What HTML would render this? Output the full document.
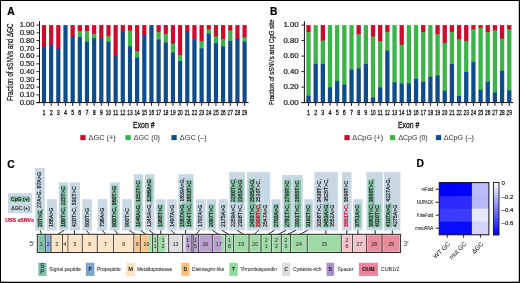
<!DOCTYPE html>
<html><head><meta charset="utf-8"><style>
html,body{margin:0;padding:0;background:#fff;}
body{width:520px;height:283px;overflow:hidden;}
svg{display:block;font-family:"Liberation Sans", sans-serif;will-change:transform;}

</style></head><body>
<svg width="520" height="283" viewBox="0 0 520 283">
<rect x="0" y="0" width="520" height="283" fill="#fff"/>
<rect x="41.90" y="25.10" width="4.20" height="21.97" fill="#cc0a2e"/>
<rect x="41.90" y="46.57" width="4.20" height="56.03" fill="#0e4c8c"/>
<line x1="44.00" y1="103.10" x2="44.00" y2="105.80" stroke="#111" stroke-width="1.0"/>
<text x="44.00" y="115.00" font-size="7.5" text-anchor="middle" fill="#111" stroke="#111" stroke-width="0.28" textLength="3.00" lengthAdjust="spacingAndGlyphs">1</text>
<rect x="49.06" y="25.10" width="4.20" height="19.95" fill="#cc0a2e"/>
<rect x="49.06" y="44.55" width="4.20" height="58.05" fill="#0e4c8c"/>
<line x1="51.16" y1="103.10" x2="51.16" y2="105.80" stroke="#111" stroke-width="1.0"/>
<text x="51.16" y="115.00" font-size="7.5" text-anchor="middle" fill="#111" stroke="#111" stroke-width="0.28" textLength="3.00" lengthAdjust="spacingAndGlyphs">2</text>
<rect x="56.23" y="25.10" width="4.20" height="24.06" fill="#cc0a2e"/>
<rect x="56.23" y="48.66" width="4.20" height="53.94" fill="#0e4c8c"/>
<line x1="58.33" y1="103.10" x2="58.33" y2="105.80" stroke="#111" stroke-width="1.0"/>
<text x="58.33" y="115.00" font-size="7.5" text-anchor="middle" fill="#111" stroke="#111" stroke-width="0.28" textLength="3.00" lengthAdjust="spacingAndGlyphs">3</text>
<rect x="63.39" y="25.10" width="4.20" height="77.50" fill="#0e4c8c"/>
<line x1="65.49" y1="103.10" x2="65.49" y2="105.80" stroke="#111" stroke-width="1.0"/>
<text x="65.49" y="115.00" font-size="7.5" text-anchor="middle" fill="#111" stroke="#111" stroke-width="0.28" textLength="3.00" lengthAdjust="spacingAndGlyphs">4</text>
<rect x="70.56" y="25.10" width="4.20" height="11.89" fill="#cc0a2e"/>
<rect x="70.56" y="36.49" width="4.20" height="66.11" fill="#0e4c8c"/>
<line x1="72.66" y1="103.10" x2="72.66" y2="105.80" stroke="#111" stroke-width="1.0"/>
<text x="72.66" y="115.00" font-size="7.5" text-anchor="middle" fill="#111" stroke="#111" stroke-width="0.28" textLength="3.00" lengthAdjust="spacingAndGlyphs">5</text>
<rect x="77.72" y="25.10" width="4.20" height="6.47" fill="#cc0a2e"/>
<rect x="77.72" y="31.07" width="4.20" height="6.55" fill="#3cb44a"/>
<rect x="77.72" y="37.11" width="4.20" height="65.49" fill="#0e4c8c"/>
<line x1="79.82" y1="103.10" x2="79.82" y2="105.80" stroke="#111" stroke-width="1.0"/>
<text x="79.82" y="115.00" font-size="7.5" text-anchor="middle" fill="#111" stroke="#111" stroke-width="0.28" textLength="3.00" lengthAdjust="spacingAndGlyphs">6</text>
<rect x="84.88" y="25.10" width="4.20" height="6.47" fill="#cc0a2e"/>
<rect x="84.88" y="31.07" width="4.20" height="11.19" fill="#3cb44a"/>
<rect x="84.88" y="41.76" width="4.20" height="60.84" fill="#0e4c8c"/>
<line x1="86.98" y1="103.10" x2="86.98" y2="105.80" stroke="#111" stroke-width="1.0"/>
<text x="86.98" y="115.00" font-size="7.5" text-anchor="middle" fill="#111" stroke="#111" stroke-width="0.28" textLength="3.00" lengthAdjust="spacingAndGlyphs">7</text>
<rect x="92.05" y="25.10" width="4.20" height="9.49" fill="#cc0a2e"/>
<rect x="92.05" y="34.09" width="4.20" height="4.61" fill="#3cb44a"/>
<rect x="92.05" y="38.20" width="4.20" height="64.40" fill="#0e4c8c"/>
<line x1="94.15" y1="103.10" x2="94.15" y2="105.80" stroke="#111" stroke-width="1.0"/>
<text x="94.15" y="115.00" font-size="7.5" text-anchor="middle" fill="#111" stroke="#111" stroke-width="0.28" textLength="3.00" lengthAdjust="spacingAndGlyphs">8</text>
<rect x="99.21" y="25.10" width="4.20" height="13.60" fill="#cc0a2e"/>
<rect x="99.21" y="38.20" width="4.20" height="64.40" fill="#0e4c8c"/>
<line x1="101.31" y1="103.10" x2="101.31" y2="105.80" stroke="#111" stroke-width="1.0"/>
<text x="101.31" y="115.00" font-size="7.5" text-anchor="middle" fill="#111" stroke="#111" stroke-width="0.28" textLength="3.00" lengthAdjust="spacingAndGlyphs">9</text>
<rect x="106.38" y="25.10" width="4.20" height="11.50" fill="#cc0a2e"/>
<rect x="106.38" y="36.10" width="4.20" height="6.16" fill="#3cb44a"/>
<rect x="106.38" y="41.76" width="4.20" height="60.84" fill="#0e4c8c"/>
<line x1="108.48" y1="103.10" x2="108.48" y2="105.80" stroke="#111" stroke-width="1.0"/>
<text x="108.48" y="115.00" font-size="7.5" text-anchor="middle" fill="#111" stroke="#111" stroke-width="0.28" textLength="5.30" lengthAdjust="spacingAndGlyphs">10</text>
<rect x="113.54" y="25.10" width="4.20" height="31.65" fill="#cc0a2e"/>
<rect x="113.54" y="56.25" width="4.20" height="46.34" fill="#0e4c8c"/>
<line x1="115.64" y1="103.10" x2="115.64" y2="105.80" stroke="#111" stroke-width="1.0"/>
<text x="115.64" y="115.00" font-size="7.5" text-anchor="middle" fill="#111" stroke="#111" stroke-width="0.28" textLength="5.30" lengthAdjust="spacingAndGlyphs">11</text>
<rect x="120.70" y="25.10" width="4.20" height="7.09" fill="#cc0a2e"/>
<rect x="120.70" y="31.69" width="4.20" height="70.91" fill="#0e4c8c"/>
<line x1="122.80" y1="103.10" x2="122.80" y2="105.80" stroke="#111" stroke-width="1.0"/>
<text x="122.80" y="115.00" font-size="7.5" text-anchor="middle" fill="#111" stroke="#111" stroke-width="0.28" textLength="5.30" lengthAdjust="spacingAndGlyphs">12</text>
<rect x="127.87" y="25.10" width="4.20" height="5.92" fill="#cc0a2e"/>
<rect x="127.87" y="30.52" width="4.20" height="16.16" fill="#3cb44a"/>
<rect x="127.87" y="46.18" width="4.20" height="56.42" fill="#0e4c8c"/>
<line x1="129.97" y1="103.10" x2="129.97" y2="105.80" stroke="#111" stroke-width="1.0"/>
<text x="129.97" y="115.00" font-size="7.5" text-anchor="middle" fill="#111" stroke="#111" stroke-width="0.28" textLength="5.30" lengthAdjust="spacingAndGlyphs">13</text>
<rect x="135.03" y="25.10" width="4.20" height="26.69" fill="#cc0a2e"/>
<rect x="135.03" y="51.29" width="4.20" height="6.86" fill="#3cb44a"/>
<rect x="135.03" y="57.65" width="4.20" height="44.95" fill="#0e4c8c"/>
<line x1="137.13" y1="103.10" x2="137.13" y2="105.80" stroke="#111" stroke-width="1.0"/>
<text x="137.13" y="115.00" font-size="7.5" text-anchor="middle" fill="#111" stroke="#111" stroke-width="0.28" textLength="5.30" lengthAdjust="spacingAndGlyphs">14</text>
<rect x="142.20" y="25.10" width="4.20" height="10.50" fill="#cc0a2e"/>
<rect x="142.20" y="35.10" width="4.20" height="67.50" fill="#0e4c8c"/>
<line x1="144.30" y1="103.10" x2="144.30" y2="105.80" stroke="#111" stroke-width="1.0"/>
<text x="144.30" y="115.00" font-size="7.5" text-anchor="middle" fill="#111" stroke="#111" stroke-width="0.28" textLength="5.30" lengthAdjust="spacingAndGlyphs">15</text>
<rect x="149.36" y="25.10" width="4.20" height="77.50" fill="#0e4c8c"/>
<line x1="151.46" y1="103.10" x2="151.46" y2="105.80" stroke="#111" stroke-width="1.0"/>
<text x="151.46" y="115.00" font-size="7.5" text-anchor="middle" fill="#111" stroke="#111" stroke-width="0.28" textLength="5.30" lengthAdjust="spacingAndGlyphs">16</text>
<rect x="156.52" y="25.10" width="4.20" height="7.63" fill="#cc0a2e"/>
<rect x="156.52" y="32.23" width="4.20" height="7.86" fill="#3cb44a"/>
<rect x="156.52" y="39.59" width="4.20" height="63.01" fill="#0e4c8c"/>
<line x1="158.62" y1="103.10" x2="158.62" y2="105.80" stroke="#111" stroke-width="1.0"/>
<text x="158.62" y="115.00" font-size="7.5" text-anchor="middle" fill="#111" stroke="#111" stroke-width="0.28" textLength="5.30" lengthAdjust="spacingAndGlyphs">17</text>
<rect x="163.69" y="25.10" width="4.20" height="9.49" fill="#cc0a2e"/>
<rect x="163.69" y="34.09" width="4.20" height="8.87" fill="#3cb44a"/>
<rect x="163.69" y="42.46" width="4.20" height="60.14" fill="#0e4c8c"/>
<line x1="165.79" y1="103.10" x2="165.79" y2="105.80" stroke="#111" stroke-width="1.0"/>
<text x="165.79" y="115.00" font-size="7.5" text-anchor="middle" fill="#111" stroke="#111" stroke-width="0.28" textLength="5.30" lengthAdjust="spacingAndGlyphs">18</text>
<rect x="170.85" y="25.10" width="4.20" height="18.94" fill="#cc0a2e"/>
<rect x="170.85" y="43.54" width="4.20" height="9.64" fill="#3cb44a"/>
<rect x="170.85" y="52.69" width="4.20" height="49.91" fill="#0e4c8c"/>
<line x1="172.95" y1="103.10" x2="172.95" y2="105.80" stroke="#111" stroke-width="1.0"/>
<text x="172.95" y="115.00" font-size="7.5" text-anchor="middle" fill="#111" stroke="#111" stroke-width="0.28" textLength="5.30" lengthAdjust="spacingAndGlyphs">19</text>
<rect x="178.02" y="25.10" width="4.20" height="30.57" fill="#cc0a2e"/>
<rect x="178.02" y="55.17" width="4.20" height="6.39" fill="#3cb44a"/>
<rect x="178.02" y="61.06" width="4.20" height="41.54" fill="#0e4c8c"/>
<line x1="180.12" y1="103.10" x2="180.12" y2="105.80" stroke="#111" stroke-width="1.0"/>
<text x="180.12" y="115.00" font-size="7.5" text-anchor="middle" fill="#111" stroke="#111" stroke-width="0.28" textLength="5.30" lengthAdjust="spacingAndGlyphs">20</text>
<rect x="185.18" y="25.10" width="4.20" height="7.32" fill="#cc0a2e"/>
<rect x="185.18" y="31.92" width="4.20" height="70.68" fill="#0e4c8c"/>
<line x1="187.28" y1="103.10" x2="187.28" y2="105.80" stroke="#111" stroke-width="1.0"/>
<text x="187.28" y="115.00" font-size="7.5" text-anchor="middle" fill="#111" stroke="#111" stroke-width="0.28" textLength="5.30" lengthAdjust="spacingAndGlyphs">21</text>
<rect x="192.34" y="25.10" width="4.20" height="14.68" fill="#cc0a2e"/>
<rect x="192.34" y="39.28" width="4.20" height="63.32" fill="#0e4c8c"/>
<line x1="194.44" y1="103.10" x2="194.44" y2="105.80" stroke="#111" stroke-width="1.0"/>
<text x="194.44" y="115.00" font-size="7.5" text-anchor="middle" fill="#111" stroke="#111" stroke-width="0.28" textLength="5.30" lengthAdjust="spacingAndGlyphs">22</text>
<rect x="199.51" y="25.10" width="4.20" height="16.39" fill="#cc0a2e"/>
<rect x="199.51" y="40.99" width="4.20" height="7.86" fill="#3cb44a"/>
<rect x="199.51" y="48.35" width="4.20" height="54.25" fill="#0e4c8c"/>
<line x1="201.61" y1="103.10" x2="201.61" y2="105.80" stroke="#111" stroke-width="1.0"/>
<text x="201.61" y="115.00" font-size="7.5" text-anchor="middle" fill="#111" stroke="#111" stroke-width="0.28" textLength="5.30" lengthAdjust="spacingAndGlyphs">23</text>
<rect x="206.67" y="25.10" width="4.20" height="4.76" fill="#cc0a2e"/>
<rect x="206.67" y="29.36" width="4.20" height="4.76" fill="#3cb44a"/>
<rect x="206.67" y="33.62" width="4.20" height="68.97" fill="#0e4c8c"/>
<line x1="208.77" y1="103.10" x2="208.77" y2="105.80" stroke="#111" stroke-width="1.0"/>
<text x="208.77" y="115.00" font-size="7.5" text-anchor="middle" fill="#111" stroke="#111" stroke-width="0.28" textLength="5.30" lengthAdjust="spacingAndGlyphs">24</text>
<rect x="213.84" y="25.10" width="4.20" height="11.81" fill="#cc0a2e"/>
<rect x="213.84" y="36.41" width="4.20" height="7.24" fill="#3cb44a"/>
<rect x="213.84" y="43.16" width="4.20" height="59.44" fill="#0e4c8c"/>
<line x1="215.94" y1="103.10" x2="215.94" y2="105.80" stroke="#111" stroke-width="1.0"/>
<text x="215.94" y="115.00" font-size="7.5" text-anchor="middle" fill="#111" stroke="#111" stroke-width="0.28" textLength="5.30" lengthAdjust="spacingAndGlyphs">25</text>
<rect x="221.00" y="25.10" width="4.20" height="14.68" fill="#cc0a2e"/>
<rect x="221.00" y="39.28" width="4.20" height="7.47" fill="#3cb44a"/>
<rect x="221.00" y="46.26" width="4.20" height="56.34" fill="#0e4c8c"/>
<line x1="223.10" y1="103.10" x2="223.10" y2="105.80" stroke="#111" stroke-width="1.0"/>
<text x="223.10" y="115.00" font-size="7.5" text-anchor="middle" fill="#111" stroke="#111" stroke-width="0.28" textLength="5.30" lengthAdjust="spacingAndGlyphs">26</text>
<rect x="228.16" y="25.10" width="4.20" height="5.85" fill="#cc0a2e"/>
<rect x="228.16" y="30.45" width="4.20" height="11.04" fill="#3cb44a"/>
<rect x="228.16" y="40.99" width="4.20" height="61.61" fill="#0e4c8c"/>
<line x1="230.26" y1="103.10" x2="230.26" y2="105.80" stroke="#111" stroke-width="1.0"/>
<text x="230.26" y="115.00" font-size="7.5" text-anchor="middle" fill="#111" stroke="#111" stroke-width="0.28" textLength="5.30" lengthAdjust="spacingAndGlyphs">27</text>
<rect x="235.33" y="25.10" width="4.20" height="14.29" fill="#cc0a2e"/>
<rect x="235.33" y="38.89" width="4.20" height="63.70" fill="#0e4c8c"/>
<line x1="237.43" y1="103.10" x2="237.43" y2="105.80" stroke="#111" stroke-width="1.0"/>
<text x="237.43" y="115.00" font-size="7.5" text-anchor="middle" fill="#111" stroke="#111" stroke-width="0.28" textLength="5.30" lengthAdjust="spacingAndGlyphs">28</text>
<rect x="242.49" y="25.10" width="4.20" height="12.59" fill="#cc0a2e"/>
<rect x="242.49" y="37.19" width="4.20" height="4.99" fill="#3cb44a"/>
<rect x="242.49" y="41.68" width="4.20" height="60.91" fill="#0e4c8c"/>
<line x1="244.59" y1="103.10" x2="244.59" y2="105.80" stroke="#111" stroke-width="1.0"/>
<text x="244.59" y="115.00" font-size="7.5" text-anchor="middle" fill="#111" stroke="#111" stroke-width="0.28" textLength="5.30" lengthAdjust="spacingAndGlyphs">29</text>
<line x1="39.50" y1="21.20" x2="39.50" y2="103.10" stroke="#111" stroke-width="1"/>
<line x1="36.50" y1="102.60" x2="248.59" y2="102.60" stroke="#111" stroke-width="1"/>
<line x1="36.50" y1="102.60" x2="39.50" y2="102.60" stroke="#111" stroke-width="0.9"/>
<text x="34.50" y="104.80" font-size="7.4" text-anchor="end" fill="#111" stroke="#111" stroke-width="0.18" textLength="14.80" lengthAdjust="spacingAndGlyphs">0.00</text>
<line x1="36.50" y1="94.85" x2="39.50" y2="94.85" stroke="#111" stroke-width="0.9"/>
<text x="34.50" y="97.05" font-size="7.4" text-anchor="end" fill="#111" stroke="#111" stroke-width="0.18" textLength="14.80" lengthAdjust="spacingAndGlyphs">0.10</text>
<line x1="36.50" y1="87.10" x2="39.50" y2="87.10" stroke="#111" stroke-width="0.9"/>
<text x="34.50" y="89.30" font-size="7.4" text-anchor="end" fill="#111" stroke="#111" stroke-width="0.18" textLength="14.80" lengthAdjust="spacingAndGlyphs">0.20</text>
<line x1="36.50" y1="79.35" x2="39.50" y2="79.35" stroke="#111" stroke-width="0.9"/>
<text x="34.50" y="81.55" font-size="7.4" text-anchor="end" fill="#111" stroke="#111" stroke-width="0.18" textLength="14.80" lengthAdjust="spacingAndGlyphs">0.30</text>
<line x1="36.50" y1="71.60" x2="39.50" y2="71.60" stroke="#111" stroke-width="0.9"/>
<text x="34.50" y="73.80" font-size="7.4" text-anchor="end" fill="#111" stroke="#111" stroke-width="0.18" textLength="14.80" lengthAdjust="spacingAndGlyphs">0.40</text>
<line x1="36.50" y1="63.85" x2="39.50" y2="63.85" stroke="#111" stroke-width="0.9"/>
<text x="34.50" y="66.05" font-size="7.4" text-anchor="end" fill="#111" stroke="#111" stroke-width="0.18" textLength="14.80" lengthAdjust="spacingAndGlyphs">0.50</text>
<line x1="36.50" y1="56.10" x2="39.50" y2="56.10" stroke="#111" stroke-width="0.9"/>
<text x="34.50" y="58.30" font-size="7.4" text-anchor="end" fill="#111" stroke="#111" stroke-width="0.18" textLength="14.80" lengthAdjust="spacingAndGlyphs">0.60</text>
<line x1="36.50" y1="48.35" x2="39.50" y2="48.35" stroke="#111" stroke-width="0.9"/>
<text x="34.50" y="50.55" font-size="7.4" text-anchor="end" fill="#111" stroke="#111" stroke-width="0.18" textLength="14.80" lengthAdjust="spacingAndGlyphs">0.70</text>
<line x1="36.50" y1="40.60" x2="39.50" y2="40.60" stroke="#111" stroke-width="0.9"/>
<text x="34.50" y="42.80" font-size="7.4" text-anchor="end" fill="#111" stroke="#111" stroke-width="0.18" textLength="14.80" lengthAdjust="spacingAndGlyphs">0.80</text>
<line x1="36.50" y1="32.85" x2="39.50" y2="32.85" stroke="#111" stroke-width="0.9"/>
<text x="34.50" y="35.05" font-size="7.4" text-anchor="end" fill="#111" stroke="#111" stroke-width="0.18" textLength="14.80" lengthAdjust="spacingAndGlyphs">0.90</text>
<line x1="36.50" y1="25.10" x2="39.50" y2="25.10" stroke="#111" stroke-width="0.9"/>
<text x="34.50" y="27.30" font-size="7.4" text-anchor="end" fill="#111" stroke="#111" stroke-width="0.18" textLength="14.80" lengthAdjust="spacingAndGlyphs">1.00</text>
<text x="13.00" y="62.20" font-size="8.2" text-anchor="middle" fill="#111" stroke="#111" stroke-width="0.22" textLength="77.40" lengthAdjust="spacingAndGlyphs" transform="rotate(-90 13.00 62.20)">Fraction of sSNVs and ΔGC</text>
<text x="143.80" y="127.80" font-size="9.0" text-anchor="middle" fill="#111" stroke="#111" stroke-width="0.3" textLength="21.40" lengthAdjust="spacingAndGlyphs">Exon #</text>
<rect x="80.30" y="135.10" width="5.30" height="5.00" fill="#cc0a2e"/>
<text x="88.60" y="139.90" font-size="6.8" text-anchor="start" fill="#3a3a3a" stroke="#3a3a3a" stroke-width="0.05" textLength="27.00" lengthAdjust="spacingAndGlyphs">ΔGC (+)</text>
<rect x="125.40" y="135.10" width="5.30" height="5.00" fill="#3cb44a"/>
<text x="133.80" y="139.90" font-size="6.8" text-anchor="start" fill="#3a3a3a" stroke="#3a3a3a" stroke-width="0.05" textLength="26.20" lengthAdjust="spacingAndGlyphs">ΔGC (0)</text>
<rect x="171.40" y="135.10" width="5.30" height="5.00" fill="#0e4c8c"/>
<text x="179.80" y="139.90" font-size="6.8" text-anchor="start" fill="#3a3a3a" stroke="#3a3a3a" stroke-width="0.05" textLength="27.00" lengthAdjust="spacingAndGlyphs">ΔGC (–)</text>
<rect x="306.35" y="25.10" width="4.30" height="7.47" fill="#cc0a2e"/>
<rect x="306.35" y="32.07" width="4.30" height="64.21" fill="#3cb44a"/>
<rect x="306.35" y="95.78" width="4.30" height="6.82" fill="#0e4c8c"/>
<line x1="308.50" y1="103.10" x2="308.50" y2="105.80" stroke="#111" stroke-width="1.0"/>
<text x="308.50" y="115.00" font-size="7.5" text-anchor="middle" fill="#111" stroke="#111" stroke-width="0.28" textLength="3.00" lengthAdjust="spacingAndGlyphs">1</text>
<rect x="313.52" y="25.10" width="4.30" height="39.25" fill="#3cb44a"/>
<rect x="313.52" y="63.85" width="4.30" height="38.75" fill="#0e4c8c"/>
<line x1="315.67" y1="103.10" x2="315.67" y2="105.80" stroke="#111" stroke-width="1.0"/>
<text x="315.67" y="115.00" font-size="7.5" text-anchor="middle" fill="#111" stroke="#111" stroke-width="0.28" textLength="3.00" lengthAdjust="spacingAndGlyphs">2</text>
<rect x="320.69" y="25.10" width="4.30" height="16.00" fill="#cc0a2e"/>
<rect x="320.69" y="40.60" width="4.30" height="23.75" fill="#3cb44a"/>
<rect x="320.69" y="63.85" width="4.30" height="38.75" fill="#0e4c8c"/>
<line x1="322.84" y1="103.10" x2="322.84" y2="105.80" stroke="#111" stroke-width="1.0"/>
<text x="322.84" y="115.00" font-size="7.5" text-anchor="middle" fill="#111" stroke="#111" stroke-width="0.28" textLength="3.00" lengthAdjust="spacingAndGlyphs">3</text>
<rect x="327.86" y="25.10" width="4.30" height="62.73" fill="#3cb44a"/>
<rect x="327.86" y="87.33" width="4.30" height="15.27" fill="#0e4c8c"/>
<line x1="330.01" y1="103.10" x2="330.01" y2="105.80" stroke="#111" stroke-width="1.0"/>
<text x="330.01" y="115.00" font-size="7.5" text-anchor="middle" fill="#111" stroke="#111" stroke-width="0.28" textLength="3.00" lengthAdjust="spacingAndGlyphs">4</text>
<rect x="335.03" y="25.10" width="4.30" height="56.30" fill="#3cb44a"/>
<rect x="335.03" y="80.90" width="4.30" height="21.70" fill="#0e4c8c"/>
<line x1="337.18" y1="103.10" x2="337.18" y2="105.80" stroke="#111" stroke-width="1.0"/>
<text x="337.18" y="115.00" font-size="7.5" text-anchor="middle" fill="#111" stroke="#111" stroke-width="0.28" textLength="3.00" lengthAdjust="spacingAndGlyphs">5</text>
<rect x="342.20" y="25.10" width="4.30" height="60.10" fill="#3cb44a"/>
<rect x="342.20" y="84.70" width="4.30" height="17.90" fill="#0e4c8c"/>
<line x1="344.35" y1="103.10" x2="344.35" y2="105.80" stroke="#111" stroke-width="1.0"/>
<text x="344.35" y="115.00" font-size="7.5" text-anchor="middle" fill="#111" stroke="#111" stroke-width="0.28" textLength="3.00" lengthAdjust="spacingAndGlyphs">6</text>
<rect x="349.37" y="25.10" width="4.30" height="45.06" fill="#3cb44a"/>
<rect x="349.37" y="69.66" width="4.30" height="32.94" fill="#0e4c8c"/>
<line x1="351.52" y1="103.10" x2="351.52" y2="105.80" stroke="#111" stroke-width="1.0"/>
<text x="351.52" y="115.00" font-size="7.5" text-anchor="middle" fill="#111" stroke="#111" stroke-width="0.28" textLength="3.00" lengthAdjust="spacingAndGlyphs">7</text>
<rect x="356.54" y="25.10" width="4.30" height="9.49" fill="#cc0a2e"/>
<rect x="356.54" y="34.09" width="4.30" height="34.91" fill="#3cb44a"/>
<rect x="356.54" y="68.50" width="4.30" height="34.10" fill="#0e4c8c"/>
<line x1="358.69" y1="103.10" x2="358.69" y2="105.80" stroke="#111" stroke-width="1.0"/>
<text x="358.69" y="115.00" font-size="7.5" text-anchor="middle" fill="#111" stroke="#111" stroke-width="0.28" textLength="3.00" lengthAdjust="spacingAndGlyphs">8</text>
<rect x="363.71" y="25.10" width="4.30" height="39.25" fill="#3cb44a"/>
<rect x="363.71" y="63.85" width="4.30" height="38.75" fill="#0e4c8c"/>
<line x1="365.86" y1="103.10" x2="365.86" y2="105.80" stroke="#111" stroke-width="1.0"/>
<text x="365.86" y="115.00" font-size="7.5" text-anchor="middle" fill="#111" stroke="#111" stroke-width="0.28" textLength="3.00" lengthAdjust="spacingAndGlyphs">9</text>
<rect x="370.88" y="25.10" width="4.30" height="11.89" fill="#cc0a2e"/>
<rect x="370.88" y="36.49" width="4.30" height="61.42" fill="#3cb44a"/>
<rect x="370.88" y="97.41" width="4.30" height="5.19" fill="#0e4c8c"/>
<line x1="373.03" y1="103.10" x2="373.03" y2="105.80" stroke="#111" stroke-width="1.0"/>
<text x="373.03" y="115.00" font-size="7.5" text-anchor="middle" fill="#111" stroke="#111" stroke-width="0.28" textLength="5.30" lengthAdjust="spacingAndGlyphs">10</text>
<rect x="378.05" y="25.10" width="4.30" height="16.54" fill="#cc0a2e"/>
<rect x="378.05" y="41.14" width="4.30" height="46.85" fill="#3cb44a"/>
<rect x="378.05" y="87.49" width="4.30" height="15.11" fill="#0e4c8c"/>
<line x1="380.20" y1="103.10" x2="380.20" y2="105.80" stroke="#111" stroke-width="1.0"/>
<text x="380.20" y="115.00" font-size="7.5" text-anchor="middle" fill="#111" stroke="#111" stroke-width="0.28" textLength="5.30" lengthAdjust="spacingAndGlyphs">11</text>
<rect x="385.22" y="25.10" width="4.30" height="7.09" fill="#cc0a2e"/>
<rect x="385.22" y="31.69" width="4.30" height="19.64" fill="#3cb44a"/>
<rect x="385.22" y="50.83" width="4.30" height="51.77" fill="#0e4c8c"/>
<line x1="387.37" y1="103.10" x2="387.37" y2="105.80" stroke="#111" stroke-width="1.0"/>
<text x="387.37" y="115.00" font-size="7.5" text-anchor="middle" fill="#111" stroke="#111" stroke-width="0.28" textLength="5.30" lengthAdjust="spacingAndGlyphs">12</text>
<rect x="392.39" y="25.10" width="4.30" height="57.69" fill="#3cb44a"/>
<rect x="392.39" y="82.29" width="4.30" height="20.31" fill="#0e4c8c"/>
<line x1="394.54" y1="103.10" x2="394.54" y2="105.80" stroke="#111" stroke-width="1.0"/>
<text x="394.54" y="115.00" font-size="7.5" text-anchor="middle" fill="#111" stroke="#111" stroke-width="0.28" textLength="5.30" lengthAdjust="spacingAndGlyphs">13</text>
<rect x="399.56" y="25.10" width="4.30" height="20.18" fill="#cc0a2e"/>
<rect x="399.56" y="44.78" width="4.30" height="39.25" fill="#3cb44a"/>
<rect x="399.56" y="83.53" width="4.30" height="19.06" fill="#0e4c8c"/>
<line x1="401.71" y1="103.10" x2="401.71" y2="105.80" stroke="#111" stroke-width="1.0"/>
<text x="401.71" y="115.00" font-size="7.5" text-anchor="middle" fill="#111" stroke="#111" stroke-width="0.28" textLength="5.30" lengthAdjust="spacingAndGlyphs">14</text>
<rect x="406.73" y="25.10" width="4.30" height="58.78" fill="#3cb44a"/>
<rect x="406.73" y="83.38" width="4.30" height="19.22" fill="#0e4c8c"/>
<line x1="408.88" y1="103.10" x2="408.88" y2="105.80" stroke="#111" stroke-width="1.0"/>
<text x="408.88" y="115.00" font-size="7.5" text-anchor="middle" fill="#111" stroke="#111" stroke-width="0.28" textLength="5.30" lengthAdjust="spacingAndGlyphs">15</text>
<rect x="413.90" y="25.10" width="4.30" height="54.21" fill="#3cb44a"/>
<rect x="413.90" y="78.81" width="4.30" height="23.79" fill="#0e4c8c"/>
<line x1="416.05" y1="103.10" x2="416.05" y2="105.80" stroke="#111" stroke-width="1.0"/>
<text x="416.05" y="115.00" font-size="7.5" text-anchor="middle" fill="#111" stroke="#111" stroke-width="0.28" textLength="5.30" lengthAdjust="spacingAndGlyphs">16</text>
<rect x="421.07" y="25.10" width="4.30" height="7.47" fill="#cc0a2e"/>
<rect x="421.07" y="32.07" width="4.30" height="50.26" fill="#3cb44a"/>
<rect x="421.07" y="81.83" width="4.30" height="20.77" fill="#0e4c8c"/>
<line x1="423.22" y1="103.10" x2="423.22" y2="105.80" stroke="#111" stroke-width="1.0"/>
<text x="423.22" y="115.00" font-size="7.5" text-anchor="middle" fill="#111" stroke="#111" stroke-width="0.28" textLength="5.30" lengthAdjust="spacingAndGlyphs">17</text>
<rect x="428.24" y="25.10" width="4.30" height="52.11" fill="#3cb44a"/>
<rect x="428.24" y="76.71" width="4.30" height="25.89" fill="#0e4c8c"/>
<line x1="430.39" y1="103.10" x2="430.39" y2="105.80" stroke="#111" stroke-width="1.0"/>
<text x="430.39" y="115.00" font-size="7.5" text-anchor="middle" fill="#111" stroke="#111" stroke-width="0.28" textLength="5.30" lengthAdjust="spacingAndGlyphs">18</text>
<rect x="435.41" y="25.10" width="4.30" height="9.57" fill="#cc0a2e"/>
<rect x="435.41" y="34.17" width="4.30" height="42.04" fill="#3cb44a"/>
<rect x="435.41" y="75.71" width="4.30" height="26.89" fill="#0e4c8c"/>
<line x1="437.56" y1="103.10" x2="437.56" y2="105.80" stroke="#111" stroke-width="1.0"/>
<text x="437.56" y="115.00" font-size="7.5" text-anchor="middle" fill="#111" stroke="#111" stroke-width="0.28" textLength="5.30" lengthAdjust="spacingAndGlyphs">19</text>
<rect x="442.58" y="25.10" width="4.30" height="18.32" fill="#cc0a2e"/>
<rect x="442.58" y="42.92" width="4.30" height="48.40" fill="#3cb44a"/>
<rect x="442.58" y="90.82" width="4.30" height="11.78" fill="#0e4c8c"/>
<line x1="444.73" y1="103.10" x2="444.73" y2="105.80" stroke="#111" stroke-width="1.0"/>
<text x="444.73" y="115.00" font-size="7.5" text-anchor="middle" fill="#111" stroke="#111" stroke-width="0.28" textLength="5.30" lengthAdjust="spacingAndGlyphs">20</text>
<rect x="449.75" y="25.10" width="4.30" height="7.24" fill="#cc0a2e"/>
<rect x="449.75" y="31.84" width="4.30" height="32.59" fill="#3cb44a"/>
<rect x="449.75" y="63.93" width="4.30" height="38.67" fill="#0e4c8c"/>
<line x1="451.90" y1="103.10" x2="451.90" y2="105.80" stroke="#111" stroke-width="1.0"/>
<text x="451.90" y="115.00" font-size="7.5" text-anchor="middle" fill="#111" stroke="#111" stroke-width="0.28" textLength="5.30" lengthAdjust="spacingAndGlyphs">21</text>
<rect x="456.92" y="25.10" width="4.30" height="14.76" fill="#cc0a2e"/>
<rect x="456.92" y="39.36" width="4.30" height="57.15" fill="#3cb44a"/>
<rect x="456.92" y="96.01" width="4.30" height="6.59" fill="#0e4c8c"/>
<line x1="459.07" y1="103.10" x2="459.07" y2="105.80" stroke="#111" stroke-width="1.0"/>
<text x="459.07" y="115.00" font-size="7.5" text-anchor="middle" fill="#111" stroke="#111" stroke-width="0.28" textLength="5.30" lengthAdjust="spacingAndGlyphs">22</text>
<rect x="464.09" y="25.10" width="4.30" height="16.23" fill="#cc0a2e"/>
<rect x="464.09" y="40.83" width="4.30" height="31.58" fill="#3cb44a"/>
<rect x="464.09" y="71.91" width="4.30" height="30.69" fill="#0e4c8c"/>
<line x1="466.24" y1="103.10" x2="466.24" y2="105.80" stroke="#111" stroke-width="1.0"/>
<text x="466.24" y="115.00" font-size="7.5" text-anchor="middle" fill="#111" stroke="#111" stroke-width="0.28" textLength="5.30" lengthAdjust="spacingAndGlyphs">23</text>
<rect x="471.26" y="25.10" width="4.30" height="4.68" fill="#cc0a2e"/>
<rect x="471.26" y="29.28" width="4.30" height="33.13" fill="#3cb44a"/>
<rect x="471.26" y="61.91" width="4.30" height="40.69" fill="#0e4c8c"/>
<line x1="473.41" y1="103.10" x2="473.41" y2="105.80" stroke="#111" stroke-width="1.0"/>
<text x="473.41" y="115.00" font-size="7.5" text-anchor="middle" fill="#111" stroke="#111" stroke-width="0.28" textLength="5.30" lengthAdjust="spacingAndGlyphs">24</text>
<rect x="478.43" y="25.10" width="4.30" height="3.06" fill="#cc0a2e"/>
<rect x="478.43" y="27.66" width="4.30" height="62.58" fill="#3cb44a"/>
<rect x="478.43" y="89.73" width="4.30" height="12.86" fill="#0e4c8c"/>
<line x1="480.58" y1="103.10" x2="480.58" y2="105.80" stroke="#111" stroke-width="1.0"/>
<text x="480.58" y="115.00" font-size="7.5" text-anchor="middle" fill="#111" stroke="#111" stroke-width="0.28" textLength="5.30" lengthAdjust="spacingAndGlyphs">25</text>
<rect x="485.60" y="25.10" width="4.30" height="7.47" fill="#cc0a2e"/>
<rect x="485.60" y="32.07" width="4.30" height="50.26" fill="#3cb44a"/>
<rect x="485.60" y="81.83" width="4.30" height="20.77" fill="#0e4c8c"/>
<line x1="487.75" y1="103.10" x2="487.75" y2="105.80" stroke="#111" stroke-width="1.0"/>
<text x="487.75" y="115.00" font-size="7.5" text-anchor="middle" fill="#111" stroke="#111" stroke-width="0.28" textLength="5.30" lengthAdjust="spacingAndGlyphs">26</text>
<rect x="492.77" y="25.10" width="4.30" height="5.77" fill="#cc0a2e"/>
<rect x="492.77" y="30.37" width="4.30" height="62.66" fill="#3cb44a"/>
<rect x="492.77" y="92.52" width="4.30" height="10.08" fill="#0e4c8c"/>
<line x1="494.92" y1="103.10" x2="494.92" y2="105.80" stroke="#111" stroke-width="1.0"/>
<text x="494.92" y="115.00" font-size="7.5" text-anchor="middle" fill="#111" stroke="#111" stroke-width="0.28" textLength="5.30" lengthAdjust="spacingAndGlyphs">27</text>
<rect x="499.94" y="25.10" width="4.30" height="14.06" fill="#cc0a2e"/>
<rect x="499.94" y="38.66" width="4.30" height="32.74" fill="#3cb44a"/>
<rect x="499.94" y="70.90" width="4.30" height="31.70" fill="#0e4c8c"/>
<line x1="502.09" y1="103.10" x2="502.09" y2="105.80" stroke="#111" stroke-width="1.0"/>
<text x="502.09" y="115.00" font-size="7.5" text-anchor="middle" fill="#111" stroke="#111" stroke-width="0.28" textLength="5.30" lengthAdjust="spacingAndGlyphs">28</text>
<rect x="507.11" y="25.10" width="4.30" height="4.68" fill="#cc0a2e"/>
<rect x="507.11" y="29.28" width="4.30" height="61.65" fill="#3cb44a"/>
<rect x="507.11" y="90.43" width="4.30" height="12.17" fill="#0e4c8c"/>
<line x1="509.26" y1="103.10" x2="509.26" y2="105.80" stroke="#111" stroke-width="1.0"/>
<text x="509.26" y="115.00" font-size="7.5" text-anchor="middle" fill="#111" stroke="#111" stroke-width="0.28" textLength="5.30" lengthAdjust="spacingAndGlyphs">29</text>
<line x1="304.40" y1="21.20" x2="304.40" y2="103.10" stroke="#111" stroke-width="1"/>
<line x1="301.40" y1="102.60" x2="513.26" y2="102.60" stroke="#111" stroke-width="1"/>
<line x1="301.40" y1="102.60" x2="304.40" y2="102.60" stroke="#111" stroke-width="0.9"/>
<text x="298.60" y="104.80" font-size="7.4" text-anchor="end" fill="#111" stroke="#111" stroke-width="0.18" textLength="15.20" lengthAdjust="spacingAndGlyphs">0.00</text>
<line x1="301.40" y1="87.10" x2="304.40" y2="87.10" stroke="#111" stroke-width="0.9"/>
<text x="298.60" y="89.30" font-size="7.4" text-anchor="end" fill="#111" stroke="#111" stroke-width="0.18" textLength="15.20" lengthAdjust="spacingAndGlyphs">0.20</text>
<line x1="301.40" y1="71.60" x2="304.40" y2="71.60" stroke="#111" stroke-width="0.9"/>
<text x="298.60" y="73.80" font-size="7.4" text-anchor="end" fill="#111" stroke="#111" stroke-width="0.18" textLength="15.20" lengthAdjust="spacingAndGlyphs">0.40</text>
<line x1="301.40" y1="56.10" x2="304.40" y2="56.10" stroke="#111" stroke-width="0.9"/>
<text x="298.60" y="58.30" font-size="7.4" text-anchor="end" fill="#111" stroke="#111" stroke-width="0.18" textLength="15.20" lengthAdjust="spacingAndGlyphs">0.60</text>
<line x1="301.40" y1="40.60" x2="304.40" y2="40.60" stroke="#111" stroke-width="0.9"/>
<text x="298.60" y="42.80" font-size="7.4" text-anchor="end" fill="#111" stroke="#111" stroke-width="0.18" textLength="15.20" lengthAdjust="spacingAndGlyphs">0.80</text>
<line x1="301.40" y1="25.10" x2="304.40" y2="25.10" stroke="#111" stroke-width="0.9"/>
<text x="298.60" y="27.30" font-size="7.4" text-anchor="end" fill="#111" stroke="#111" stroke-width="0.18" textLength="15.20" lengthAdjust="spacingAndGlyphs">1.00</text>
<text x="273.80" y="62.20" font-size="6.9" text-anchor="middle" fill="#111" stroke="#111" stroke-width="0.22" textLength="85.50" lengthAdjust="spacingAndGlyphs" transform="rotate(-90 273.80 62.20)">Fraction of sSNVs and CpG site</text>
<text x="408.60" y="127.80" font-size="9.0" text-anchor="middle" fill="#111" stroke="#111" stroke-width="0.3" textLength="21.40" lengthAdjust="spacingAndGlyphs">Exon #</text>
<rect x="344.40" y="135.10" width="5.30" height="5.00" fill="#cc0a2e"/>
<text x="352.30" y="139.90" font-size="6.8" text-anchor="start" fill="#3a3a3a" stroke="#3a3a3a" stroke-width="0.05" textLength="30.80" lengthAdjust="spacingAndGlyphs">ΔCpG (+)</text>
<rect x="389.90" y="135.10" width="5.30" height="5.00" fill="#3cb44a"/>
<text x="398.40" y="139.90" font-size="6.8" text-anchor="start" fill="#3a3a3a" stroke="#3a3a3a" stroke-width="0.05" textLength="29.30" lengthAdjust="spacingAndGlyphs">ΔCpG (0)</text>
<rect x="435.90" y="135.10" width="5.30" height="5.00" fill="#0e4c8c"/>
<text x="443.70" y="139.90" font-size="6.8" text-anchor="start" fill="#3a3a3a" stroke="#3a3a3a" stroke-width="0.05" textLength="30.20" lengthAdjust="spacingAndGlyphs">ΔCpG (–)</text>
<rect x="35.20" y="168.10" width="9.60" height="62.40" fill="#c8d8e4"/>
<rect x="37.10" y="209.90" width="5.80" height="17.50" fill="#88c3aa"/>
<text x="41.50" y="227.00" font-size="5.25" text-anchor="start" fill="#1e1e1e" stroke="#1e1e1e" stroke-width="0.2" transform="rotate(-90 41.50 227.00)">20T&gt;G, </text>
<text x="41.50" y="207.89" font-size="5.25" text-anchor="start" fill="#1e1e1e" stroke="#1e1e1e" stroke-width="0.2" transform="rotate(-90 41.50 207.89)">27A&gt;G, 87A&gt;G</text>
<line x1="40.20" y1="230.30" x2="41.50" y2="234.30" stroke="#111" stroke-width="0.9"/>
<rect x="46.90" y="199.20" width="9.90" height="31.30" fill="#c8d8e4"/>
<text x="53.35" y="227.00" font-size="5.25" text-anchor="start" fill="#1e1e1e" stroke="#1e1e1e" stroke-width="0.2" transform="rotate(-90 53.35 227.00)">168A&gt;G</text>
<rect x="58.80" y="182.40" width="9.70" height="48.10" fill="#c8d8e4"/>
<rect x="60.75" y="185.54" width="5.80" height="41.86" fill="#88c3aa"/>
<text x="65.15" y="227.00" font-size="5.25" text-anchor="start" fill="#1e1e1e" stroke="#1e1e1e" stroke-width="0.2" transform="rotate(-90 65.15 227.00)">189T&gt;C, 225T&gt;C</text>
<line x1="64.00" y1="230.30" x2="57.70" y2="234.30" stroke="#111" stroke-width="0.9"/>
<rect x="69.90" y="182.40" width="10.00" height="48.10" fill="#c8d8e4"/>
<text x="76.40" y="227.00" font-size="5.25" text-anchor="start" fill="#1e1e1e" stroke="#1e1e1e" stroke-width="0.2" transform="rotate(-90 76.40 227.00)">420T&gt;C, 531T&gt;C</text>
<line x1="74.40" y1="230.30" x2="74.40" y2="234.30" stroke="#111" stroke-width="0.9"/>
<rect x="82.20" y="199.20" width="9.80" height="31.30" fill="#c8d8e4"/>
<text x="88.60" y="227.00" font-size="5.25" text-anchor="start" fill="#1e1e1e" stroke="#1e1e1e" stroke-width="0.2" transform="rotate(-90 88.60 227.00)">600T&gt;G</text>
<line x1="86.40" y1="230.30" x2="89.60" y2="234.30" stroke="#111" stroke-width="0.9"/>
<rect x="97.70" y="199.20" width="9.60" height="31.30" fill="#c8d8e4"/>
<text x="104.00" y="227.00" font-size="5.25" text-anchor="start" fill="#1e1e1e" stroke="#1e1e1e" stroke-width="0.2" transform="rotate(-90 104.00 227.00)">738A&gt;G</text>
<line x1="102.30" y1="230.30" x2="105.80" y2="234.30" stroke="#111" stroke-width="0.9"/>
<rect x="110.00" y="182.40" width="9.70" height="48.10" fill="#c8d8e4"/>
<rect x="111.95" y="185.25" width="5.80" height="42.15" fill="#88c3aa"/>
<text x="116.35" y="227.00" font-size="5.25" text-anchor="start" fill="#1e1e1e" stroke="#1e1e1e" stroke-width="0.2" transform="rotate(-90 116.35 227.00)">903T&gt;C, 960T&gt;G</text>
<line x1="115.00" y1="230.30" x2="117.90" y2="234.30" stroke="#111" stroke-width="0.9"/>
<rect x="122.30" y="199.20" width="9.60" height="31.30" fill="#c8d8e4"/>
<text x="128.60" y="227.00" font-size="5.25" text-anchor="start" fill="#1e1e1e" stroke="#1e1e1e" stroke-width="0.2" transform="rotate(-90 128.60 227.00)">990T&gt;C</text>
<line x1="129.40" y1="230.30" x2="135.20" y2="234.30" stroke="#111" stroke-width="0.9"/>
<rect x="133.80" y="174.20" width="9.40" height="56.30" fill="#c8d8e4"/>
<rect x="135.60" y="179.89" width="5.80" height="47.51" fill="#88c3aa"/>
<text x="140.00" y="227.00" font-size="5.25" text-anchor="start" fill="#1e1e1e" stroke="#1e1e1e" stroke-width="0.2" transform="rotate(-90 140.00 227.00)">1146A&gt;G, 1152T&gt;C</text>
<line x1="140.60" y1="230.30" x2="145.80" y2="234.30" stroke="#111" stroke-width="0.9"/>
<rect x="144.90" y="174.20" width="9.70" height="56.30" fill="#c8d8e4"/>
<rect x="146.85" y="178.52" width="5.80" height="23.63" fill="#88c3aa"/>
<text x="151.25" y="227.00" font-size="5.25" text-anchor="start" fill="#1e1e1e" stroke="#1e1e1e" stroke-width="0.2" transform="rotate(-90 151.25 227.00)">1245A&gt;G, </text>
<text x="151.25" y="201.75" font-size="5.25" text-anchor="start" fill="#1e1e1e" stroke="#1e1e1e" stroke-width="0.2" transform="rotate(-90 151.25 201.75)">1266A&gt;G</text>
<line x1="149.20" y1="230.30" x2="154.40" y2="234.30" stroke="#111" stroke-width="0.9"/>
<rect x="156.10" y="199.20" width="9.30" height="31.30" fill="#c8d8e4"/>
<rect x="157.85" y="204.36" width="5.80" height="23.04" fill="#88c3aa"/>
<text x="162.25" y="227.00" font-size="5.25" text-anchor="start" fill="#1e1e1e" stroke="#1e1e1e" stroke-width="0.2" transform="rotate(-90 162.25 227.00)">1368T&gt;C</text>
<line x1="160.80" y1="230.30" x2="160.80" y2="234.30" stroke="#111" stroke-width="0.9"/>
<rect x="167.20" y="199.20" width="9.70" height="31.30" fill="#c8d8e4"/>
<text x="173.55" y="227.00" font-size="5.25" text-anchor="start" fill="#1e1e1e" stroke="#1e1e1e" stroke-width="0.2" transform="rotate(-90 173.55 227.00)">1497A&gt;G</text>
<line x1="171.20" y1="230.30" x2="175.20" y2="234.30" stroke="#111" stroke-width="0.9"/>
<rect x="178.30" y="174.20" width="15.40" height="56.30" fill="#c8d8e4"/>
<rect x="179.45" y="203.77" width="6.60" height="23.63" fill="#88c3aa"/>
<rect x="185.95" y="179.70" width="6.60" height="47.70" fill="#88c3aa"/>
<text x="184.25" y="227.00" font-size="5.25" text-anchor="start" fill="#1e1e1e" stroke="#1e1e1e" stroke-width="0.2" transform="rotate(-90 184.25 227.00)">1587A&gt;G, </text>
<text x="184.25" y="201.75" font-size="5.25" text-anchor="start" fill="#1e1e1e" stroke="#1e1e1e" stroke-width="0.2" transform="rotate(-90 184.25 201.75)">1639A&gt;G,</text>
<text x="190.75" y="227.00" font-size="5.25" text-anchor="start" fill="#1e1e1e" stroke="#1e1e1e" stroke-width="0.2" transform="rotate(-90 190.75 227.00)">1644T&gt;C, 1653T&gt;C</text>
<line x1="185.60" y1="230.30" x2="185.60" y2="234.30" stroke="#111" stroke-width="0.9"/>
<rect x="196.10" y="199.20" width="9.60" height="31.30" fill="#c8d8e4"/>
<text x="202.40" y="227.00" font-size="5.25" text-anchor="start" fill="#1e1e1e" stroke="#1e1e1e" stroke-width="0.2" transform="rotate(-90 202.40 227.00)">1707A&gt;G</text>
<line x1="199.60" y1="230.30" x2="196.20" y2="234.30" stroke="#111" stroke-width="0.9"/>
<rect x="206.90" y="199.20" width="9.40" height="31.30" fill="#c8d8e4"/>
<rect x="208.70" y="204.36" width="5.80" height="23.04" fill="#88c3aa"/>
<text x="213.10" y="227.00" font-size="5.25" text-anchor="start" fill="#1e1e1e" stroke="#1e1e1e" stroke-width="0.2" transform="rotate(-90 213.10 227.00)">2097T&gt;C</text>
<line x1="212.30" y1="230.30" x2="218.70" y2="234.30" stroke="#111" stroke-width="0.9"/>
<rect x="218.40" y="199.20" width="9.40" height="31.30" fill="#c8d8e4"/>
<text x="224.60" y="227.00" font-size="5.25" text-anchor="start" fill="#1e1e1e" stroke="#1e1e1e" stroke-width="0.2" transform="rotate(-90 224.60 227.00)">2175A&gt;G</text>
<line x1="222.10" y1="230.30" x2="228.50" y2="234.30" stroke="#111" stroke-width="0.9"/>
<rect x="229.20" y="171.90" width="15.70" height="58.60" fill="#c8d8e4"/>
<rect x="230.50" y="179.40" width="6.60" height="23.04" fill="#88c3aa"/>
<rect x="237.00" y="179.11" width="6.60" height="23.63" fill="#88c3aa"/>
<text x="235.30" y="227.00" font-size="5.25" text-anchor="start" fill="#1e1e1e" stroke="#1e1e1e" stroke-width="0.2" transform="rotate(-90 235.30 227.00)">2259A&gt;C, </text>
<text x="235.30" y="202.05" font-size="5.25" text-anchor="start" fill="#1e1e1e" stroke="#1e1e1e" stroke-width="0.2" transform="rotate(-90 235.30 202.05)">2280T&gt;C,</text>
<text x="241.80" y="227.00" font-size="5.25" text-anchor="start" fill="#1e1e1e" stroke="#1e1e1e" stroke-width="0.2" transform="rotate(-90 241.80 227.00)">2338T&gt;C, </text>
<text x="241.80" y="202.34" font-size="5.25" text-anchor="start" fill="#1e1e1e" stroke="#1e1e1e" stroke-width="0.2" transform="rotate(-90 241.80 202.34)">2361A&gt;G</text>
<line x1="237.10" y1="230.30" x2="243.50" y2="234.30" stroke="#111" stroke-width="0.9"/>
<rect x="246.90" y="171.90" width="23.20" height="58.60" fill="#c8d8e4"/>
<rect x="248.70" y="179.11" width="6.60" height="48.29" fill="#88c3aa"/>
<rect x="255.20" y="204.36" width="6.60" height="23.04" fill="#88c3aa"/>
<text x="253.50" y="227.00" font-size="5.25" text-anchor="start" fill="#1e1e1e" stroke="#1e1e1e" stroke-width="0.2" transform="rotate(-90 253.50 227.00)">2493T&gt;C, 2505A&gt;G,</text>
<text x="260.00" y="227.00" font-size="5.25" text-anchor="start" fill="#d0103a" stroke="#d0103a" stroke-width="0.2" font-weight="bold" transform="rotate(-90 260.00 227.00)">2508T&gt;C</text>
<text x="260.00" y="205.26" font-size="5.25" text-anchor="start" fill="#1e1e1e" stroke="#1e1e1e" stroke-width="0.2" transform="rotate(-90 260.00 205.26)">, 2520T&gt;C,</text>
<text x="266.50" y="227.00" font-size="5.25" text-anchor="start" fill="#1e1e1e" stroke="#1e1e1e" stroke-width="0.2" transform="rotate(-90 266.50 227.00)">2547A&gt;G</text>
<line x1="258.80" y1="230.30" x2="254.20" y2="234.30" stroke="#111" stroke-width="0.9"/>
<rect x="271.50" y="199.20" width="9.10" height="31.30" fill="#c8d8e4"/>
<rect x="273.15" y="203.77" width="5.80" height="23.63" fill="#88c3aa"/>
<text x="277.55" y="227.00" font-size="5.25" text-anchor="start" fill="#1e1e1e" stroke="#1e1e1e" stroke-width="0.2" transform="rotate(-90 277.55 227.00)">2703A&gt;G</text>
<line x1="274.40" y1="230.30" x2="268.10" y2="234.30" stroke="#111" stroke-width="0.9"/>
<rect x="282.30" y="175.00" width="20.50" height="55.50" fill="#c8d8e4"/>
<rect x="284.00" y="179.70" width="6.60" height="47.70" fill="#88c3aa"/>
<rect x="294.50" y="179.70" width="6.60" height="47.70" fill="#88c3aa"/>
<text x="288.80" y="227.00" font-size="5.25" text-anchor="start" fill="#1e1e1e" stroke="#1e1e1e" stroke-width="0.2" transform="rotate(-90 288.80 227.00)">2781T&gt;C, 2799T&gt;C</text>
<text x="299.30" y="227.00" font-size="5.25" text-anchor="start" fill="#1e1e1e" stroke="#1e1e1e" stroke-width="0.2" transform="rotate(-90 299.30 227.00)">2931T&gt;C, 2955T&gt;C</text>
<line x1="286.00" y1="230.30" x2="278.50" y2="234.30" stroke="#111" stroke-width="0.9"/>
<line x1="295.80" y1="230.30" x2="287.70" y2="234.30" stroke="#111" stroke-width="0.9"/>
<rect x="304.20" y="199.20" width="9.20" height="31.30" fill="#c8d8e4"/>
<rect x="305.90" y="204.36" width="5.80" height="23.04" fill="#88c3aa"/>
<text x="310.30" y="227.00" font-size="5.25" text-anchor="start" fill="#1e1e1e" stroke="#1e1e1e" stroke-width="0.2" transform="rotate(-90 310.30 227.00)">3192T&gt;C</text>
<line x1="307.50" y1="230.30" x2="300.20" y2="234.30" stroke="#111" stroke-width="0.9"/>
<rect x="314.30" y="171.90" width="23.40" height="58.60" fill="#c8d8e4"/>
<rect x="322.70" y="203.77" width="6.60" height="23.63" fill="#88c3aa"/>
<text x="321.00" y="227.00" font-size="5.25" text-anchor="start" fill="#1e1e1e" stroke="#1e1e1e" stroke-width="0.2" transform="rotate(-90 321.00 227.00)">3258T&gt;C, 3438T&gt;C,</text>
<text x="327.50" y="227.00" font-size="5.25" text-anchor="start" fill="#1e1e1e" stroke="#1e1e1e" stroke-width="0.2" transform="rotate(-90 327.50 227.00)">3453A&gt;G, </text>
<text x="327.50" y="201.75" font-size="5.25" text-anchor="start" fill="#1e1e1e" stroke="#1e1e1e" stroke-width="0.2" transform="rotate(-90 327.50 201.75)">3525T&gt;C,</text>
<text x="334.00" y="227.00" font-size="5.25" text-anchor="start" fill="#1e1e1e" stroke="#1e1e1e" stroke-width="0.2" transform="rotate(-90 334.00 227.00)">3552A&gt;G</text>
<line x1="325.90" y1="230.30" x2="325.90" y2="234.30" stroke="#111" stroke-width="0.9"/>
<rect x="342.00" y="171.90" width="9.60" height="58.60" fill="#c8d8e4"/>
<text x="348.30" y="227.00" font-size="5.25" text-anchor="start" fill="#d0103a" stroke="#d0103a" stroke-width="0.2" font-weight="bold" transform="rotate(-90 348.30 227.00)">3651T&gt;C</text>
<text x="348.30" y="205.26" font-size="5.25" text-anchor="start" fill="#1e1e1e" stroke="#1e1e1e" stroke-width="0.2" transform="rotate(-90 348.30 205.26)">, 3699T&gt;C</text>
<line x1="346.80" y1="230.30" x2="346.80" y2="234.30" stroke="#111" stroke-width="0.9"/>
<rect x="353.20" y="199.20" width="9.50" height="31.30" fill="#c8d8e4"/>
<rect x="355.05" y="204.06" width="5.80" height="23.34" fill="#88c3aa"/>
<text x="359.45" y="227.00" font-size="5.25" text-anchor="start" fill="#1e1e1e" stroke="#1e1e1e" stroke-width="0.2" transform="rotate(-90 359.45 227.00)">3751A&gt;C</text>
<line x1="357.90" y1="230.30" x2="357.90" y2="234.30" stroke="#111" stroke-width="0.9"/>
<rect x="366.50" y="171.90" width="16.20" height="58.60" fill="#c8d8e4"/>
<rect x="368.05" y="179.70" width="6.60" height="47.70" fill="#88c3aa"/>
<rect x="374.55" y="204.36" width="6.60" height="23.04" fill="#88c3aa"/>
<text x="372.85" y="227.00" font-size="5.25" text-anchor="start" fill="#1e1e1e" stroke="#1e1e1e" stroke-width="0.2" transform="rotate(-90 372.85 227.00)">3963T&gt;C, 3990T&gt;C,</text>
<text x="379.35" y="227.00" font-size="5.25" text-anchor="start" fill="#1e1e1e" stroke="#1e1e1e" stroke-width="0.2" transform="rotate(-90 379.35 227.00)">4020T&gt;C</text>
<line x1="375.20" y1="230.30" x2="375.20" y2="234.30" stroke="#111" stroke-width="0.9"/>
<rect x="383.90" y="171.90" width="16.50" height="58.60" fill="#c8d8e4"/>
<rect x="385.60" y="203.77" width="6.60" height="23.63" fill="#88c3aa"/>
<text x="390.40" y="227.00" font-size="5.25" text-anchor="start" fill="#1e1e1e" stroke="#1e1e1e" stroke-width="0.2" transform="rotate(-90 390.40 227.00)">4107A&gt;G, </text>
<text x="390.40" y="201.75" font-size="5.25" text-anchor="start" fill="#1e1e1e" stroke="#1e1e1e" stroke-width="0.2" transform="rotate(-90 390.40 201.75)">4227A&gt;G,</text>
<text x="396.90" y="227.00" font-size="5.25" text-anchor="start" fill="#1e1e1e" stroke="#1e1e1e" stroke-width="0.2" transform="rotate(-90 396.90 227.00)">4275A&gt;G</text>
<line x1="392.30" y1="230.30" x2="392.30" y2="234.30" stroke="#111" stroke-width="0.9"/>
<rect x="7.90" y="193.20" width="24.40" height="20.20" fill="#c8d8e4"/>
<rect x="10.40" y="196.40" width="19.50" height="5.60" fill="#88c3aa"/>
<text x="20.20" y="201.20" font-size="5.2" text-anchor="middle" fill="#1e1e1e" stroke="#1e1e1e" stroke-width="0.2">CpG (+)</text>
<text x="20.60" y="209.80" font-size="5.0" text-anchor="middle" fill="#333" stroke="#333" stroke-width="0.2">ΔGC (+)</text>
<text x="19.60" y="221.60" font-size="5.25" text-anchor="middle" fill="#d0103a" stroke="#d0103a" stroke-width="0.2" font-weight="bold" textLength="28.80" lengthAdjust="spacingAndGlyphs">USS sSNVs</text>
<rect x="37.30" y="234.30" width="8.00" height="18.20" fill="#7ec2a6"/>
<rect x="45.30" y="234.30" width="5.70" height="18.20" fill="#88aad2"/>
<rect x="51.00" y="234.30" width="83.60" height="18.20" fill="#fde4c6"/>
<rect x="134.60" y="234.30" width="13.90" height="18.20" fill="#fbc489"/>
<rect x="148.50" y="234.30" width="16.50" height="18.20" fill="#9fdaa6"/>
<rect x="165.00" y="234.30" width="20.60" height="18.20" fill="#dedede"/>
<rect x="185.60" y="234.30" width="36.10" height="18.20" fill="#b9a0cf"/>
<rect x="221.70" y="234.30" width="119.60" height="18.20" fill="#9fdaa6"/>
<rect x="341.30" y="234.30" width="25.10" height="18.20" fill="#f5c3cb"/>
<rect x="366.40" y="234.30" width="34.20" height="18.20" fill="#e88b9b"/>
<rect x="38.30" y="235.30" width="6.00" height="16.20" fill="none" stroke="#fff" stroke-opacity="0.35" stroke-width="0.8"/>
<rect x="46.30" y="235.30" width="3.70" height="16.20" fill="none" stroke="#fff" stroke-opacity="0.35" stroke-width="0.8"/>
<rect x="52.00" y="235.30" width="9.50" height="16.20" fill="none" stroke="#fff" stroke-opacity="0.35" stroke-width="0.8"/>
<rect x="63.50" y="235.30" width="3.10" height="16.20" fill="none" stroke="#fff" stroke-opacity="0.35" stroke-width="0.8"/>
<rect x="68.60" y="235.30" width="12.70" height="16.20" fill="none" stroke="#fff" stroke-opacity="0.35" stroke-width="0.8"/>
<rect x="83.30" y="235.30" width="13.00" height="16.20" fill="none" stroke="#fff" stroke-opacity="0.35" stroke-width="0.8"/>
<rect x="98.30" y="235.30" width="14.20" height="16.20" fill="none" stroke="#fff" stroke-opacity="0.35" stroke-width="0.8"/>
<rect x="114.50" y="235.30" width="18.30" height="16.20" fill="none" stroke="#fff" stroke-opacity="0.35" stroke-width="0.8"/>
<rect x="134.80" y="235.30" width="4.60" height="16.20" fill="none" stroke="#fff" stroke-opacity="0.35" stroke-width="0.8"/>
<rect x="141.40" y="235.30" width="10.10" height="16.20" fill="none" stroke="#fff" stroke-opacity="0.35" stroke-width="0.8"/>
<rect x="153.50" y="235.30" width="3.20" height="16.20" fill="none" stroke="#fff" stroke-opacity="0.35" stroke-width="0.8"/>
<rect x="158.70" y="235.30" width="8.90" height="16.20" fill="none" stroke="#fff" stroke-opacity="0.35" stroke-width="0.8"/>
<rect x="169.60" y="235.30" width="12.00" height="16.20" fill="none" stroke="#fff" stroke-opacity="0.35" stroke-width="0.8"/>
<rect x="183.60" y="235.30" width="8.10" height="16.20" fill="none" stroke="#fff" stroke-opacity="0.35" stroke-width="0.8"/>
<rect x="193.70" y="235.30" width="3.70" height="16.20" fill="none" stroke="#fff" stroke-opacity="0.35" stroke-width="0.8"/>
<rect x="199.40" y="235.30" width="11.90" height="16.20" fill="none" stroke="#fff" stroke-opacity="0.35" stroke-width="0.8"/>
<rect x="213.30" y="235.30" width="11.30" height="16.20" fill="none" stroke="#fff" stroke-opacity="0.35" stroke-width="0.8"/>
<rect x="226.60" y="235.30" width="5.90" height="16.20" fill="none" stroke="#fff" stroke-opacity="0.35" stroke-width="0.8"/>
<rect x="234.50" y="235.30" width="13.50" height="16.20" fill="none" stroke="#fff" stroke-opacity="0.35" stroke-width="0.8"/>
<rect x="250.00" y="235.30" width="10.00" height="16.20" fill="none" stroke="#fff" stroke-opacity="0.35" stroke-width="0.8"/>
<rect x="262.00" y="235.30" width="8.40" height="16.20" fill="none" stroke="#fff" stroke-opacity="0.35" stroke-width="0.8"/>
<rect x="272.40" y="235.30" width="7.90" height="16.20" fill="none" stroke="#fff" stroke-opacity="0.35" stroke-width="0.8"/>
<rect x="282.30" y="235.30" width="7.20" height="16.20" fill="none" stroke="#fff" stroke-opacity="0.35" stroke-width="0.8"/>
<rect x="291.50" y="235.30" width="14.80" height="16.20" fill="none" stroke="#fff" stroke-opacity="0.35" stroke-width="0.8"/>
<rect x="308.30" y="235.30" width="32.00" height="16.20" fill="none" stroke="#fff" stroke-opacity="0.35" stroke-width="0.8"/>
<rect x="342.30" y="235.30" width="9.20" height="16.20" fill="none" stroke="#fff" stroke-opacity="0.35" stroke-width="0.8"/>
<rect x="353.50" y="235.30" width="11.90" height="16.20" fill="none" stroke="#fff" stroke-opacity="0.35" stroke-width="0.8"/>
<rect x="367.40" y="235.30" width="13.60" height="16.20" fill="none" stroke="#fff" stroke-opacity="0.35" stroke-width="0.8"/>
<rect x="383.00" y="235.30" width="16.60" height="16.20" fill="none" stroke="#fff" stroke-opacity="0.35" stroke-width="0.8"/>
<line x1="45.30" y1="234.30" x2="45.30" y2="252.50" stroke="#3a3a3a" stroke-width="0.9"/>
<line x1="51.00" y1="234.30" x2="51.00" y2="252.50" stroke="#3a3a3a" stroke-width="0.9"/>
<line x1="62.50" y1="234.30" x2="62.50" y2="252.50" stroke="#3a3a3a" stroke-width="0.9"/>
<line x1="82.30" y1="234.30" x2="82.30" y2="252.50" stroke="#3a3a3a" stroke-width="0.9"/>
<line x1="97.30" y1="234.30" x2="97.30" y2="252.50" stroke="#3a3a3a" stroke-width="0.9"/>
<line x1="113.50" y1="234.30" x2="113.50" y2="252.50" stroke="#3a3a3a" stroke-width="0.9"/>
<line x1="133.80" y1="234.30" x2="133.80" y2="252.50" stroke="#3a3a3a" stroke-width="0.9"/>
<line x1="140.40" y1="234.30" x2="140.40" y2="252.50" stroke="#3a3a3a" stroke-width="0.9"/>
<line x1="152.50" y1="234.30" x2="152.50" y2="252.50" stroke="#3a3a3a" stroke-width="0.9"/>
<line x1="157.70" y1="234.30" x2="157.70" y2="252.50" stroke="#3a3a3a" stroke-width="0.9"/>
<line x1="168.60" y1="234.30" x2="168.60" y2="252.50" stroke="#3a3a3a" stroke-width="0.9"/>
<line x1="182.60" y1="234.30" x2="182.60" y2="252.50" stroke="#3a3a3a" stroke-width="0.9"/>
<line x1="198.40" y1="234.30" x2="198.40" y2="252.50" stroke="#3a3a3a" stroke-width="0.9"/>
<line x1="212.30" y1="234.30" x2="212.30" y2="252.50" stroke="#3a3a3a" stroke-width="0.9"/>
<line x1="225.60" y1="234.30" x2="225.60" y2="252.50" stroke="#3a3a3a" stroke-width="0.9"/>
<line x1="233.50" y1="234.30" x2="233.50" y2="252.50" stroke="#3a3a3a" stroke-width="0.9"/>
<line x1="249.00" y1="234.30" x2="249.00" y2="252.50" stroke="#3a3a3a" stroke-width="0.9"/>
<line x1="261.00" y1="234.30" x2="261.00" y2="252.50" stroke="#3a3a3a" stroke-width="0.9"/>
<line x1="271.40" y1="234.30" x2="271.40" y2="252.50" stroke="#3a3a3a" stroke-width="0.9"/>
<line x1="281.30" y1="234.30" x2="281.30" y2="252.50" stroke="#3a3a3a" stroke-width="0.9"/>
<line x1="290.50" y1="234.30" x2="290.50" y2="252.50" stroke="#3a3a3a" stroke-width="0.9"/>
<line x1="307.30" y1="234.30" x2="307.30" y2="252.50" stroke="#3a3a3a" stroke-width="0.9"/>
<line x1="341.30" y1="234.30" x2="341.30" y2="252.50" stroke="#3a3a3a" stroke-width="0.9"/>
<line x1="352.50" y1="234.30" x2="352.50" y2="252.50" stroke="#3a3a3a" stroke-width="0.9"/>
<line x1="366.40" y1="234.30" x2="366.40" y2="252.50" stroke="#3a3a3a" stroke-width="0.9"/>
<line x1="382.00" y1="234.30" x2="382.00" y2="252.50" stroke="#3a3a3a" stroke-width="0.9"/>
<rect x="66.90" y="234.30" width="1.80" height="18.20" fill="#a89a8a"/>
<line x1="191.70" y1="234.30" x2="191.70" y2="252.50" stroke="#3a3a3a" stroke-width="0.7"/>
<line x1="193.30" y1="234.30" x2="193.30" y2="252.50" stroke="#3a3a3a" stroke-width="0.7"/>
<rect x="37.30" y="234.30" width="363.30" height="18.20" fill="none" stroke="#2a2a2a" stroke-width="1"/>
<text x="41.30" y="245.70" font-size="5.2" text-anchor="middle" fill="#333" stroke="#333" stroke-width="0.05">1</text>
<text x="48.15" y="245.70" font-size="5.2" text-anchor="middle" fill="#333" stroke="#333" stroke-width="0.05">2</text>
<text x="56.75" y="245.70" font-size="5.2" text-anchor="middle" fill="#333" stroke="#333" stroke-width="0.05">3</text>
<text x="65.05" y="245.70" font-size="5.2" text-anchor="middle" fill="#333" stroke="#333" stroke-width="0.05">4</text>
<text x="74.95" y="245.70" font-size="5.2" text-anchor="middle" fill="#333" stroke="#333" stroke-width="0.05">5</text>
<text x="89.80" y="245.70" font-size="5.2" text-anchor="middle" fill="#333" stroke="#333" stroke-width="0.05">6</text>
<text x="105.40" y="245.70" font-size="5.2" text-anchor="middle" fill="#333" stroke="#333" stroke-width="0.05">7</text>
<text x="123.65" y="245.70" font-size="5.2" text-anchor="middle" fill="#333" stroke="#333" stroke-width="0.05">8</text>
<text x="137.10" y="245.70" font-size="5.2" text-anchor="middle" fill="#333" stroke="#333" stroke-width="0.05">9</text>
<text x="146.45" y="245.70" font-size="5.2" text-anchor="middle" fill="#333" stroke="#333" stroke-width="0.05">10</text>
<text x="155.10" y="242.40" font-size="5.2" text-anchor="middle" fill="#333" stroke="#333" stroke-width="0.05">1</text>
<text x="155.10" y="248.00" font-size="5.2" text-anchor="middle" fill="#333" stroke="#333" stroke-width="0.05">1</text>
<text x="163.15" y="242.40" font-size="5.2" text-anchor="middle" fill="#333" stroke="#333" stroke-width="0.05">1</text>
<text x="163.15" y="248.00" font-size="5.2" text-anchor="middle" fill="#333" stroke="#333" stroke-width="0.05">2</text>
<text x="175.60" y="245.70" font-size="5.2" text-anchor="middle" fill="#333" stroke="#333" stroke-width="0.05">13</text>
<text x="187.65" y="242.40" font-size="5.2" text-anchor="middle" fill="#333" stroke="#333" stroke-width="0.05">1</text>
<text x="187.65" y="248.00" font-size="5.2" text-anchor="middle" fill="#333" stroke="#333" stroke-width="0.05">4</text>
<text x="195.55" y="242.40" font-size="5.2" text-anchor="middle" fill="#333" stroke="#333" stroke-width="0.05">1</text>
<text x="195.55" y="248.00" font-size="5.2" text-anchor="middle" fill="#333" stroke="#333" stroke-width="0.05">5</text>
<text x="205.35" y="245.70" font-size="5.2" text-anchor="middle" fill="#333" stroke="#333" stroke-width="0.05">16</text>
<text x="218.95" y="245.70" font-size="5.2" text-anchor="middle" fill="#333" stroke="#333" stroke-width="0.05">17</text>
<text x="229.55" y="242.40" font-size="5.2" text-anchor="middle" fill="#333" stroke="#333" stroke-width="0.05">1</text>
<text x="229.55" y="248.00" font-size="5.2" text-anchor="middle" fill="#333" stroke="#333" stroke-width="0.05">8</text>
<text x="241.25" y="245.70" font-size="5.2" text-anchor="middle" fill="#333" stroke="#333" stroke-width="0.05">19</text>
<text x="255.00" y="245.70" font-size="5.2" text-anchor="middle" fill="#333" stroke="#333" stroke-width="0.05">20</text>
<text x="266.20" y="242.40" font-size="5.2" text-anchor="middle" fill="#333" stroke="#333" stroke-width="0.05">2</text>
<text x="266.20" y="248.00" font-size="5.2" text-anchor="middle" fill="#333" stroke="#333" stroke-width="0.05">1</text>
<text x="276.35" y="242.40" font-size="5.2" text-anchor="middle" fill="#333" stroke="#333" stroke-width="0.05">2</text>
<text x="276.35" y="248.00" font-size="5.2" text-anchor="middle" fill="#333" stroke="#333" stroke-width="0.05">2</text>
<text x="285.90" y="242.40" font-size="5.2" text-anchor="middle" fill="#333" stroke="#333" stroke-width="0.05">2</text>
<text x="285.90" y="248.00" font-size="5.2" text-anchor="middle" fill="#333" stroke="#333" stroke-width="0.05">3</text>
<text x="298.90" y="245.70" font-size="5.2" text-anchor="middle" fill="#333" stroke="#333" stroke-width="0.05">24</text>
<text x="324.30" y="245.70" font-size="5.2" text-anchor="middle" fill="#333" stroke="#333" stroke-width="0.05">25</text>
<text x="346.90" y="242.40" font-size="5.2" text-anchor="middle" fill="#333" stroke="#333" stroke-width="0.05">2</text>
<text x="346.90" y="248.00" font-size="5.2" text-anchor="middle" fill="#333" stroke="#333" stroke-width="0.05">6</text>
<text x="359.45" y="245.70" font-size="5.2" text-anchor="middle" fill="#333" stroke="#333" stroke-width="0.05">27</text>
<text x="374.20" y="245.70" font-size="5.2" text-anchor="middle" fill="#333" stroke="#333" stroke-width="0.05">28</text>
<text x="391.30" y="245.70" font-size="5.2" text-anchor="middle" fill="#333" stroke="#333" stroke-width="0.05">29</text>
<text x="29.20" y="246.00" font-size="7.2" text-anchor="start" fill="#444">5′</text>
<text x="403.30" y="246.00" font-size="7.2" text-anchor="start" fill="#444">3′</text>
<rect x="38.30" y="262.80" width="8.30" height="13.10" fill="#7dc2a8"/>
<text x="42.45" y="268.20" font-size="6.4" text-anchor="middle" fill="#222" stroke="#222" stroke-width="0.1">S</text>
<text x="42.45" y="274.40" font-size="6.4" text-anchor="middle" fill="#222" stroke="#222" stroke-width="0.1">P</text>
<text x="49.20" y="271.20" font-size="5.1" text-anchor="start" fill="#2a2a2a" stroke="#2a2a2a" stroke-width="0.05" textLength="31.80" lengthAdjust="spacingAndGlyphs">Signal peptide</text>
<rect x="85.80" y="262.80" width="8.60" height="13.10" fill="#7fa3c8"/>
<text x="90.10" y="271.20" font-size="6.2" text-anchor="middle" fill="#1a1a1a" font-weight="bold" textLength="3.20" lengthAdjust="spacingAndGlyphs">P</text>
<text x="97.00" y="271.20" font-size="5.1" text-anchor="start" fill="#2a2a2a" stroke="#2a2a2a" stroke-width="0.05" textLength="23.80" lengthAdjust="spacingAndGlyphs">Propeptide</text>
<rect x="126.30" y="262.80" width="8.70" height="13.10" fill="#fde2c1"/>
<text x="130.65" y="271.20" font-size="6.2" text-anchor="middle" fill="#1a1a1a" font-weight="bold" textLength="4.80" lengthAdjust="spacingAndGlyphs">M</text>
<text x="136.90" y="271.20" font-size="5.1" text-anchor="start" fill="#2a2a2a" stroke="#2a2a2a" stroke-width="0.05" textLength="35.40" lengthAdjust="spacingAndGlyphs">Metalloprotease</text>
<rect x="181.20" y="262.80" width="8.40" height="13.10" fill="#f9bf7d"/>
<text x="185.40" y="271.20" font-size="6.2" text-anchor="middle" fill="#1a1a1a" font-weight="bold" textLength="3.80" lengthAdjust="spacingAndGlyphs">D</text>
<text x="192.10" y="271.20" font-size="5.1" text-anchor="start" fill="#2a2a2a" stroke="#2a2a2a" stroke-width="0.05" textLength="32.30" lengthAdjust="spacingAndGlyphs">Disintegrin-like</text>
<rect x="229.40" y="262.80" width="8.30" height="13.10" fill="#90d99b"/>
<text x="233.55" y="271.20" font-size="6.2" text-anchor="middle" fill="#1a1a1a" font-weight="bold" textLength="3.10" lengthAdjust="spacingAndGlyphs">T</text>
<text x="240.40" y="271.20" font-size="5.1" text-anchor="start" fill="#2a2a2a" stroke="#2a2a2a" stroke-width="0.05" textLength="36.50" lengthAdjust="spacingAndGlyphs">Thrombospondin</text>
<rect x="282.10" y="262.80" width="7.90" height="13.10" fill="#dcdcdc"/>
<text x="286.05" y="271.20" font-size="6.2" text-anchor="middle" fill="#1a1a1a" font-weight="bold" textLength="3.70" lengthAdjust="spacingAndGlyphs">C</text>
<text x="292.90" y="271.20" font-size="5.1" text-anchor="start" fill="#2a2a2a" stroke="#2a2a2a" stroke-width="0.05" textLength="28.60" lengthAdjust="spacingAndGlyphs">Cysteine-rich</text>
<rect x="326.50" y="262.80" width="7.70" height="13.10" fill="#a98dc5"/>
<text x="330.35" y="271.20" font-size="6.2" text-anchor="middle" fill="#1a1a1a" font-weight="bold" textLength="3.50" lengthAdjust="spacingAndGlyphs">S</text>
<text x="337.50" y="271.20" font-size="5.1" text-anchor="start" fill="#2a2a2a" stroke="#2a2a2a" stroke-width="0.05" textLength="16.00" lengthAdjust="spacingAndGlyphs">Spacer</text>
<rect x="358.90" y="262.80" width="19.10" height="13.10" fill="#e8889a"/>
<text x="368.45" y="271.20" font-size="6.0" text-anchor="middle" fill="#3a1a22" stroke="#3a1a22" stroke-width="0.2" font-weight="bold">CUB</text>
<text x="380.80" y="271.20" font-size="5.1" text-anchor="start" fill="#2a2a2a" stroke="#2a2a2a" stroke-width="0.05" textLength="18.80" lengthAdjust="spacingAndGlyphs">CUB1/2</text>
<rect x="439.20" y="182.60" width="17.00" height="13.90" fill="#0000fe"/>
<rect x="455.60" y="182.60" width="16.90" height="13.90" fill="#0202fd"/>
<rect x="471.90" y="182.60" width="17.00" height="13.90" fill="#bbbbfa"/>
<rect x="439.20" y="195.90" width="17.00" height="13.30" fill="#2a2aff"/>
<rect x="455.60" y="195.90" width="16.90" height="13.30" fill="#2b2bfd"/>
<rect x="471.90" y="195.90" width="17.00" height="13.30" fill="#b8b8f9"/>
<rect x="439.20" y="208.60" width="17.00" height="13.60" fill="#3c3cff"/>
<rect x="455.60" y="208.60" width="16.90" height="13.60" fill="#3d3dfd"/>
<rect x="471.90" y="208.60" width="17.00" height="13.60" fill="#e8e8fc"/>
<rect x="439.20" y="221.60" width="17.00" height="13.20" fill="#0a0aff"/>
<rect x="455.60" y="221.60" width="16.90" height="13.20" fill="#0c0cfd"/>
<rect x="471.90" y="221.60" width="17.00" height="13.20" fill="#d4d4fa"/>
<rect x="439.20" y="182.60" width="49.70" height="52.20" fill="none" stroke="#111" stroke-width="1"/>
<line x1="435.50" y1="189.25" x2="439.20" y2="189.25" stroke="#111" stroke-width="0.9"/>
<text x="433.30" y="191.35" font-size="6.1" text-anchor="end" fill="#111" stroke="#111" stroke-width="0.08" textLength="11.70" lengthAdjust="spacingAndGlyphs">mFold</text>
<line x1="435.50" y1="202.25" x2="439.20" y2="202.25" stroke="#111" stroke-width="0.9"/>
<text x="433.30" y="204.35" font-size="6.1" text-anchor="end" fill="#111" stroke="#111" stroke-width="0.08" textLength="16.50" lengthAdjust="spacingAndGlyphs">NUPACK</text>
<line x1="435.50" y1="215.10" x2="439.20" y2="215.10" stroke="#111" stroke-width="0.9"/>
<text x="433.30" y="217.20" font-size="6.1" text-anchor="end" fill="#111" stroke="#111" stroke-width="0.08" textLength="16.20" lengthAdjust="spacingAndGlyphs">KineFold</text>
<line x1="435.50" y1="228.20" x2="439.20" y2="228.20" stroke="#111" stroke-width="0.9"/>
<text x="433.30" y="230.30" font-size="6.1" text-anchor="end" fill="#111" stroke="#111" stroke-width="0.08" textLength="18.10" lengthAdjust="spacingAndGlyphs">mmuRNA</text>
<line x1="447.20" y1="234.80" x2="447.20" y2="237.80" stroke="#111" stroke-width="0.9"/>
<text x="450.60" y="244.30" font-size="6.3" text-anchor="end" fill="#222" stroke="#222" stroke-width="0.05" transform="rotate(-45 450.60 244.30)">WT GC</text>
<line x1="463.60" y1="234.80" x2="463.60" y2="237.80" stroke="#111" stroke-width="0.9"/>
<text x="467.00" y="244.30" font-size="6.3" text-anchor="end" fill="#222" stroke="#222" stroke-width="0.05" transform="rotate(-45 467.00 244.30)">mut GC</text>
<line x1="480.40" y1="234.80" x2="480.40" y2="237.80" stroke="#111" stroke-width="0.9"/>
<text x="483.80" y="244.30" font-size="6.3" text-anchor="end" fill="#222" stroke="#222" stroke-width="0.05" transform="rotate(-45 483.80 244.30)">ΔGC</text>
<defs><linearGradient id="cb" x1="0" y1="0" x2="0" y2="1"><stop offset="0" stop-color="#ffffff"/><stop offset="1" stop-color="#0000ff"/></linearGradient></defs>
<rect x="493.40" y="182.40" width="5.60" height="52.60" fill="url(#cb)" stroke="#111" stroke-width="0.9"/>
<text x="501.60" y="185.40" font-size="6.0" text-anchor="start" fill="#222" stroke="#222" stroke-width="0.2">0</text>
<text x="501.60" y="198.80" font-size="6.0" text-anchor="start" fill="#222" stroke="#222" stroke-width="0.2">−0.2</text>
<text x="501.60" y="211.90" font-size="6.0" text-anchor="start" fill="#222" stroke="#222" stroke-width="0.2">−0.4</text>
<text x="501.60" y="224.60" font-size="6.0" text-anchor="start" fill="#222" stroke="#222" stroke-width="0.2">−0.6</text>
<text x="7.30" y="14.50" font-size="10.3" text-anchor="start" fill="#000" stroke="#000" stroke-width="0.2" font-weight="bold">A</text>
<text x="270.10" y="14.50" font-size="10.3" text-anchor="start" fill="#000" stroke="#000" stroke-width="0.2" font-weight="bold">B</text>
<text x="7.30" y="168.10" font-size="10.3" text-anchor="start" fill="#000" stroke="#000" stroke-width="0.2" font-weight="bold">C</text>
<text x="416.40" y="167.40" font-size="10.3" text-anchor="start" fill="#000" stroke="#000" stroke-width="0.2" font-weight="bold">D</text>
<rect x="0.5" y="0.5" width="518.8" height="281.7" fill="none" stroke="#000" stroke-width="1"/>
<rect x="519" y="0" width="1" height="283" fill="#000"/>
<rect x="0" y="282" width="520" height="1" fill="#000"/>
</svg>
</body></html>
